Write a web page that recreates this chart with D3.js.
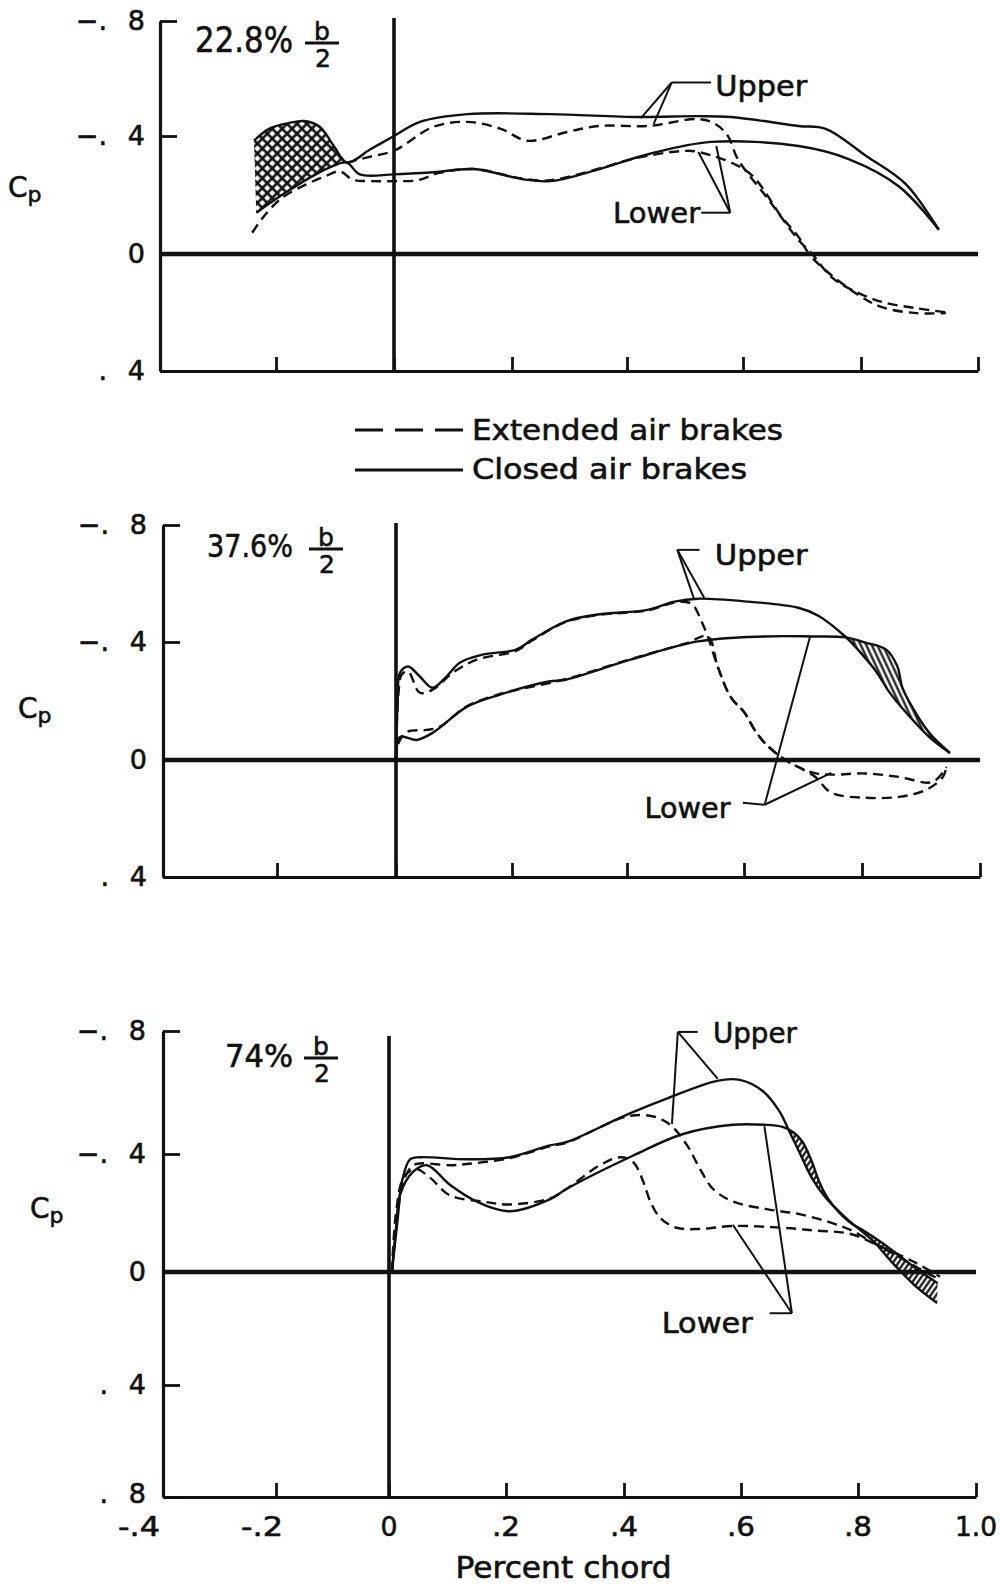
<!DOCTYPE html>
<html><head><meta charset="utf-8">
<script src="https://cdn.jsdelivr.net/npm/d3@7"></script>
<style>
body{margin:0;background:#fff}
svg{display:block}
text{font-family:"DejaVu Sans",sans-serif;fill:#111;stroke:#111;stroke-width:0.6px}
</style>
</head><body>
<svg id="c" width="1000" height="1586"></svg>
<script>
// ---------- tick values / labels ----------
const xTicks=[-0.4,-0.2,0,0.2,0.4,0.6,0.8,1.0];
const xTickLabels=["-.4","-.2","0",".2",".4",".6",".8","1.0"];
const yTicksShort=[-0.8,-0.4,0,0.4];
const yTickLabelsShort=["−.8","−.4","0",".4"];
const yTicksLong=[-0.8,-0.4,0,0.4,0.8];
const yTickLabelsLong=["−.8","−.4","0",".4",".8"];
const panelTitles=["22.8%","37.6%","74%"];
const legendLabels=["Extended air brakes","Closed air brakes"];
const xAxisTitle="Percent chord";
const yAxisTitle=["C","p"];
const surfaceLabels=["Upper","Lower"];

// ---------- panel 1 : 22.8% b/2 ----------
const p1ClosedUpper=[[-0.238,-0.384],[-0.212,-0.425],[-0.178,-0.445],[-0.152,-0.452],[-0.126,-0.432],[-0.101,-0.363],[-0.08,-0.31],[-0.04,-0.355],[0,-0.40],[0.044,-0.449],[0.125,-0.476],[0.267,-0.476],[0.42,-0.466],[0.523,-0.469],[0.579,-0.466],[0.694,-0.435],[0.74,-0.425],[0.809,-0.332],[0.877,-0.236],[0.933,-0.082]];
const p1ClosedLower=[[-0.234,-0.14],[-0.183,-0.209],[-0.138,-0.264],[-0.104,-0.298],[-0.08,-0.31],[-0.058,-0.27],[0,-0.27],[0.067,-0.277],[0.135,-0.288],[0.22,-0.253],[0.267,-0.247],[0.352,-0.288],[0.438,-0.339],[0.545,-0.38],[0.694,-0.366],[0.779,-0.322],[0.865,-0.229],[0.933,-0.082]];
const p1ExtUpper=[[-0.08,-0.31],[-0.04,-0.33],[0,-0.35],[0.067,-0.432],[0.125,-0.449],[0.181,-0.425],[0.227,-0.384],[0.296,-0.414],[0.352,-0.435],[0.438,-0.435],[0.523,-0.459],[0.552,-0.442],[0.574,-0.40],[0.591,-0.322],[0.643,-0.185],[0.694,-0.048],[0.716,-0.003],[0.75,0.079],[0.785,0.123],[0.836,0.164],[0.894,0.185],[0.945,0.199]];
const p1ExtLower=[[-0.241,-0.072],[-0.22,-0.13],[-0.19,-0.19],[-0.15,-0.235],[-0.118,-0.262],[-0.092,-0.28],[-0.07,-0.252],[-0.04,-0.247],[0,-0.247],[0.04,-0.25],[0.075,-0.274],[0.135,-0.288],[0.22,-0.255],[0.267,-0.25],[0.352,-0.29],[0.409,-0.322],[0.494,-0.349],[0.523,-0.346],[0.609,-0.277],[0.665,-0.127],[0.694,-0.058],[0.716,0.01],[0.791,0.134],[0.836,0.182],[0.894,0.202],[0.945,0.202]];
const p1UpperLabelAt=[0.552,-0.538];
const p1UpperHook=[[0.545,-0.586],[0.477,-0.586]];
const p1UpperTargets=[[0.424,-0.462],[0.446,-0.442]];
const p1LowerLabelAt=[0.526,-0.106];
const p1LowerHook=[[0.528,-0.14],[0.578,-0.14]];
const p1LowerTargets=[[0.523,-0.346],[0.554,-0.366]];

// ---------- panel 2 : 37.6% b/2 ----------
const p2ClosedUpper=[[0,0],[0.003,-0.2],[0.007,-0.296],[0.021,-0.317],[0.041,-0.283],[0.063,-0.245],[0.087,-0.283],[0.11,-0.33],[0.149,-0.357],[0.207,-0.374],[0.235,-0.408],[0.293,-0.47],[0.349,-0.494],[0.435,-0.51],[0.481,-0.538],[0.521,-0.548],[0.606,-0.538],[0.692,-0.517],[0.726,-0.49],[0.772,-0.418],[0.795,-0.37],[0.824,-0.3],[0.846,-0.231],[0.875,-0.16],[0.914,-0.078],[0.949,-0.024]];
const p2ClosedLower=[[0,0],[0.007,-0.078],[0.036,-0.068],[0.063,-0.092],[0.122,-0.18],[0.178,-0.221],[0.264,-0.266],[0.293,-0.272],[0.406,-0.34],[0.521,-0.402],[0.635,-0.419],[0.714,-0.419],[0.772,-0.416],[0.806,-0.398],[0.841,-0.374],[0.86,-0.317],[0.868,-0.248],[0.885,-0.18],[0.914,-0.092],[0.949,-0.024]];
const p2ExtUpper=[[0,0],[0.004,-0.22],[0.01,-0.29],[0.021,-0.3],[0.041,-0.228],[0.063,-0.238],[0.098,-0.296],[0.139,-0.34],[0.207,-0.37],[0.235,-0.405],[0.293,-0.468],[0.349,-0.492],[0.435,-0.508],[0.481,-0.535],[0.505,-0.535],[0.515,-0.521],[0.526,-0.477],[0.538,-0.419],[0.555,-0.317],[0.577,-0.214],[0.601,-0.16],[0.618,-0.102],[0.635,-0.058],[0.663,-0.01],[0.692,0.024],[0.72,0.045],[0.75,0.05],[0.806,0.046],[0.863,0.058],[0.92,0.075],[0.943,0.024]];
const p2ExtLower=[[0,0],[0.005,-0.06],[0.019,-0.095],[0.053,-0.102],[0.075,-0.112],[0.122,-0.182],[0.178,-0.223],[0.293,-0.274],[0.406,-0.342],[0.5,-0.395],[0.538,-0.419],[0.555,-0.317],[0.577,-0.214],[0.601,-0.16],[0.618,-0.102],[0.635,-0.058],[0.663,-0.01],[0.692,0.024],[0.721,0.058],[0.748,0.112],[0.806,0.129],[0.863,0.126],[0.909,0.102],[0.937,0.058],[0.943,0.024]];
const p2UpperLabelAt=[0.55,-0.664];
const p2UpperHook=[[0.524,-0.715],[0.486,-0.715]];
const p2UpperTargets=[[0.515,-0.545],[0.532,-0.551]];
const p2LowerLabelAt=[0.577,0.197];
const p2LowerHook=[[0.598,0.146],[0.635,0.153]];
const p2LowerTargets=[[0.712,-0.419],[0.748,0.044]];

// ---------- panel 3 : 74% b/2 ----------
const p3ClosedUpper=[[0.005,0],[0.015,-0.183],[0.022,-0.306],[0.036,-0.382],[0.053,-0.389],[0.133,-0.382],[0.206,-0.389],[0.274,-0.428],[0.303,-0.439],[0.405,-0.528],[0.474,-0.581],[0.559,-0.638],[0.598,-0.641],[0.637,-0.605],[0.666,-0.538],[0.683,-0.472],[0.70,-0.405],[0.722,-0.316],[0.746,-0.249],[0.785,-0.173],[0.825,-0.106],[0.859,-0.03],[0.899,0.053],[0.934,0.11]];
const p3ClosedLower=[[0.005,0],[0.012,-0.15],[0.019,-0.262],[0.041,-0.339],[0.065,-0.362],[0.104,-0.296],[0.15,-0.239],[0.206,-0.206],[0.274,-0.246],[0.303,-0.282],[0.416,-0.395],[0.501,-0.465],[0.586,-0.495],[0.64,-0.495],[0.671,-0.488],[0.69,-0.47],[0.705,-0.44],[0.72,-0.38],[0.735,-0.3],[0.75,-0.245],[0.785,-0.17],[0.81,-0.14],[0.84,-0.1],[0.87,-0.055],[0.90,-0.01],[0.935,0.04]];
const p3ExtUpper=[[0.005,0],[0.015,-0.2],[0.025,-0.31],[0.04,-0.36],[0.053,-0.368],[0.104,-0.362],[0.133,-0.366],[0.206,-0.386],[0.274,-0.425],[0.303,-0.437],[0.405,-0.522],[0.45,-0.522],[0.479,-0.495],[0.508,-0.428],[0.53,-0.349],[0.552,-0.282],[0.586,-0.239],[0.644,-0.213],[0.70,-0.196],[0.756,-0.166],[0.79,-0.14],[0.825,-0.1],[0.859,-0.063],[0.899,-0.017],[0.939,0.028]];
const p3ExtLower=[[0.005,0],[0.012,-0.2],[0.025,-0.32],[0.045,-0.35],[0.07,-0.32],[0.104,-0.26],[0.16,-0.239],[0.206,-0.229],[0.274,-0.249],[0.303,-0.282],[0.359,-0.362],[0.394,-0.389],[0.416,-0.372],[0.433,-0.306],[0.445,-0.239],[0.462,-0.183],[0.49,-0.15],[0.53,-0.146],[0.586,-0.156],[0.671,-0.15],[0.729,-0.14],[0.785,-0.13],[0.842,-0.083],[0.899,-0.03],[0.939,0.017]];
const p3UpperLabelAt=[0.552,-0.761];
const p3UpperHook=[[0.526,-0.797],[0.492,-0.797]];
const p3UpperTargets=[[0.56,-0.645],[0.482,-0.498]];
const p3LowerLabelAt=[0.62,0.217];
const p3LowerHook=[[0.649,0.146],[0.687,0.146]];
const p3LowerTargets=[[0.64,-0.49],[0.586,-0.16]];

// ---------- drawing ----------
const svg=d3.select("#c");
svg.append("rect").attr("width",1000).attr("height",1586).attr("fill","#fff");
const defs=svg.append("defs");
function pattern(id,size,rot,cross,sw){
  const p=defs.append("pattern").attr("id",id).attr("patternUnits","userSpaceOnUse")
    .attr("width",size).attr("height",size).attr("patternTransform",`rotate(${rot})`);
  p.append("rect").attr("width",size).attr("height",size).attr("fill","#fff");
  p.append("line").attr("x1",size/2).attr("y1",0).attr("x2",size/2).attr("y2",size).attr("stroke","#111").attr("stroke-width",sw);
  if(cross) p.append("line").attr("x1",0).attr("y1",size/2).attr("x2",size).attr("y2",size/2).attr("stroke","#111").attr("stroke-width",sw);
}
pattern("hCross",7,45,true,2.6);
pattern("hA",5,-25,false,2.2);
pattern("hB",4.5,35,false,2.2);

const INK="#111";
const panels=[
 {xr:[160,276,394,512,627,743,861,978], yt:yTicksShort, yl:yTickLabelsShort, yr:[21,136,254,371], vTop:18,
  closed:[p1ClosedUpper,p1ClosedLower], ext:[p1ExtUpper,p1ExtLower], hatch:{id:"hCross",lo:-0.25,hi:-0.08},
  upper:[p1UpperLabelAt,p1UpperHook,p1UpperTargets,92], lower:[p1LowerLabelAt,p1LowerHook,p1LowerTargets,87],
  title:{x:195,y:52,w:98,fs:36,fx:322,fy:43}, cp:{x:8,y:197}, labRight:145, xLabels:false},
 {xr:[163,277,396,512,627,744,862,980], yt:yTicksShort, yl:yTickLabelsShort, yr:[525,642,760,877], vTop:523,
  closed:[p2ClosedUpper,p2ClosedLower], ext:[p2ExtUpper,p2ExtLower], hatch:{id:"hA",lo:0.772,hi:0.95},
  upper:[p2UpperLabelAt,p2UpperHook,p2UpperTargets,93], lower:[p2LowerLabelAt,p2LowerHook,p2LowerTargets,86],
  title:{x:207,y:557,w:86,fs:32,fx:326,fy:549}, cp:{x:18,y:718}, labRight:147, xLabels:false},
 {xr:[163,276,389,506,624,741,858,976], yt:yTicksLong, yl:yTickLabelsLong, yr:[1031,1154,1272,1385,1497], vTop:1036,
  closed:[p3ClosedUpper,p3ClosedLower], ext:[p3ExtUpper,p3ExtLower], hatch:{id:"hB",lo:0.682,hi:0.94},
  upper:[p3UpperLabelAt,p3UpperHook,p3UpperTargets,84], lower:[p3LowerLabelAt,p3LowerHook,p3LowerTargets,91],
  title:{x:225,y:1067,w:68,fs:32,fx:321,fy:1058}, cp:{x:30,y:1218}, labRight:146, xLabels:true}
];

panels.forEach((P,pi)=>{
  const g=svg.append("g");
  const x=d3.scaleLinear().domain(xTicks).range(P.xr);
  const y=d3.scaleLinear().domain(P.yt).range(P.yr);
  const x0=x(-0.4), x1=x(1.0), yBot=y(P.yt[P.yt.length-1]);
  const line=d3.line().x(d=>x(d[0])).y(d=>y(d[1])).curve(d3.curveCatmullRom.alpha(0.5));

  // hatch
  const H=P.hatch;
  const up=P.closed[0].filter(d=>d[0]>=H.lo&&d[0]<=H.hi);
  const lo=P.closed[1].filter(d=>d[0]>=H.lo&&d[0]<=H.hi).reverse();
  g.append("path").attr("d",d3.line().x(d=>x(d[0])).y(d=>y(d[1])).curve(d3.curveLinearClosed)(up.concat(lo)))
    .attr("fill",`url(#${H.id})`).attr("stroke","none");

  // bottom axis
  const bAx=d3.axisBottom(x).tickValues(xTicks).tickSizeInner(-14).tickSizeOuter(0).tickFormat("");
  const bg=g.append("g").attr("transform",`translate(0,${yBot})`).call(bAx);
  bg.select(".domain").attr("stroke",INK).attr("stroke-width",3.2);
  bg.selectAll(".tick line").attr("stroke",INK).attr("stroke-width",2.8);
  // left axis
  const lAx=d3.axisLeft(y).tickValues(P.yt).tickSizeInner(-17).tickSizeOuter(0).tickFormat("");
  const lg=g.append("g").attr("transform",`translate(${x0},0)`).call(lAx);
  lg.select(".domain").attr("stroke",INK).attr("stroke-width",3.2);
  lg.selectAll(".tick line").attr("stroke",INK).attr("stroke-width",2.8);
  // y tick labels: prefix ("−." / ".") set apart from the digit
  P.yt.forEach((v,i)=>{
    const lab=P.yl[i], digit=lab.slice(-1), pre=lab.slice(0,-1);
    const isBottomLong = (v===0.8);
    const by=y(v)+(isBottomLong?6:9);
    g.append("text").attr("x",P.labRight).attr("y",by).attr("text-anchor","end").attr("font-size",27).text(digit);
    if(pre) g.append("text").attr("x",P.labRight-38).attr("y",by).attr("text-anchor","end").attr("font-size",27).text(pre);
  });
  // zero line
  g.append("line").attr("x1",x0).attr("x2",x1).attr("y1",y(0)).attr("y2",y(0)).attr("stroke",INK).attr("stroke-width",4.6);
  // vertical zero chord line
  g.append("line").attr("x1",x(0)).attr("x2",x(0)).attr("y1",P.vTop).attr("y2",yBot).attr("stroke",INK).attr("stroke-width",3.6);

  // curves
  P.closed.forEach(s=>g.append("path").attr("d",line(s)).attr("fill","none").attr("stroke",INK).attr("stroke-width",2.4));
  P.ext.forEach(s=>g.append("path").attr("d",line(s)).attr("fill","none").attr("stroke",INK).attr("stroke-width",2.4).attr("stroke-dasharray","10,6"));

  // leaders and labels
  function leader(L,txt,anchor){
    const [at,hook,targets,w]=L;
    g.append("path").attr("d",d3.line().x(d=>x(d[0])).y(d=>y(d[1]))(hook)).attr("fill","none").attr("stroke",INK).attr("stroke-width",2);
    const end=hook[hook.length-1];
    targets.forEach(t=>g.append("line").attr("x1",x(end[0])).attr("y1",y(end[1])).attr("x2",x(t[0])).attr("y2",y(t[1])).attr("stroke",INK).attr("stroke-width",2));
    g.append("text").attr("x",x(at[0])).attr("y",y(at[1])).attr("text-anchor",anchor).attr("font-size",28)
      .attr("textLength",w).attr("lengthAdjust","spacingAndGlyphs").text(txt);
  }
  leader(P.upper,surfaceLabels[0],"start");
  leader(P.lower,surfaceLabels[1],"end");

  // title with fraction b/2
  const T=P.title;
  g.append("text").attr("x",T.x).attr("y",T.y).attr("font-size",T.fs).attr("textLength",T.w).attr("lengthAdjust","spacingAndGlyphs").text(panelTitles[pi]);
  g.append("text").attr("x",T.fx).attr("y",T.fy-3).attr("text-anchor","middle").attr("font-size",25).text("b");
  g.append("line").attr("x1",T.fx-17).attr("x2",T.fx+17).attr("y1",T.fy).attr("y2",T.fy).attr("stroke",INK).attr("stroke-width",2.8);
  g.append("text").attr("x",T.fx+1).attr("y",T.fy+24).attr("text-anchor","middle").attr("font-size",25).text("2");

  // Cp
  const cp=g.append("text").attr("x",P.cp.x).attr("y",P.cp.y).attr("font-size",28);
  cp.append("tspan").text(yAxisTitle[0]);
  cp.append("tspan").attr("font-size",22).attr("dy",5).text(yAxisTitle[1]);

  if(P.xLabels){
    const wByLen=[0,17,28,42];
    xTicks.forEach((v,i)=>{
      const dx=v===-0.4?-24:(v<0?-14:0);
      g.append("text").attr("x",x(v)+dx).attr("y",yBot+39).attr("text-anchor","middle").attr("font-size",27)
        .attr("textLength",wByLen[xTickLabels[i].length]).attr("lengthAdjust","spacingAndGlyphs").text(xTickLabels[i]);
    });
    g.append("text").attr("x",(x(0.2)+x(0.6))/2-60).attr("y",yBot+81).attr("text-anchor","middle").attr("font-size",30)
      .attr("textLength",216).attr("lengthAdjust","spacingAndGlyphs").text(xAxisTitle);
  }
});

// legend
const lgd=svg.append("g");
lgd.append("line").attr("x1",355).attr("x2",463).attr("y1",430).attr("y2",430).attr("stroke",INK).attr("stroke-width",2.8).attr("stroke-dasharray","28,12");
lgd.append("line").attr("x1",355).attr("x2",463).attr("y1",470).attr("y2",470).attr("stroke",INK).attr("stroke-width",2.8);
lgd.append("text").attr("x",472).attr("y",440).attr("font-size",28).attr("textLength",311).attr("lengthAdjust","spacingAndGlyphs").text(legendLabels[0]);
lgd.append("text").attr("x",472).attr("y",479).attr("font-size",28).attr("textLength",275).attr("lengthAdjust","spacingAndGlyphs").text(legendLabels[1]);
</script>
</body></html>
